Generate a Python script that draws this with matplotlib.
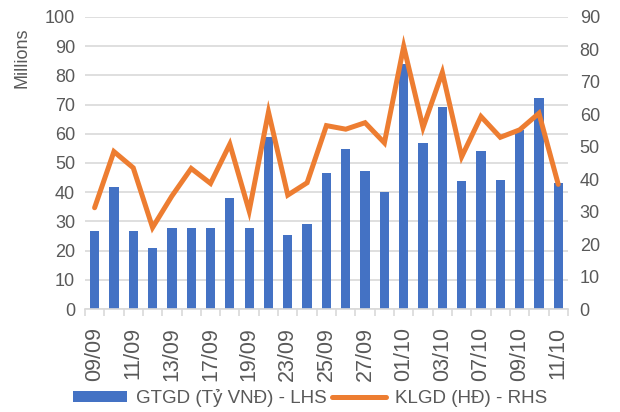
import matplotlib
matplotlib.use("Agg")
import matplotlib.pyplot as plt
import numpy as np

plt.rcParams['font.family'] = ['Liberation Sans', 'DejaVu Sans']

# trading days
dates = ['09/09', '10/09', '11/09', '12/09', '13/09', '16/09', '17/09', '18/09',
         '19/09', '20/09', '23/09', '24/09', '25/09', '26/09', '27/09', '30/09',
         '01/10', '02/10', '03/10', '04/10', '07/10', '08/10', '09/10', '10/10', '11/10']
# GTGD, left axis (millions)
gtgd = [26.6, 41.8, 26.7, 21.0, 27.8, 27.9, 27.9, 38.1, 27.8, 58.8, 25.2, 29.2,
        46.5, 54.9, 47.4, 39.9, 84.0, 56.9, 69.3, 43.8, 54.1, 44.0, 61.3, 72.4, 43.1]
# KLGD, right axis
klgd = [31.2, 48.5, 43.5, 25.1, 34.8, 43.3, 38.7, 50.8, 30.2, 60.7, 35.1, 38.9,
        56.5, 55.4, 57.4, 51.2, 80.9, 55.9, 72.9, 46.9, 59.3, 52.9, 55.2, 60.3, 38.4]

blue = '#4472C4'
orange = '#ED7D31'
txt = '#595959'
grid = '#D9D9D9'

fig = plt.figure(figsize=(6.2, 4.12), dpi=100)
ax = fig.add_axes([0.137, 0.25, 0.779, 0.709])
ax2 = ax.twinx()

x = np.arange(len(dates))
b = ax.bar(x, gtgd, width=0.48, color=blue, label='GTGD (Tỷ VNĐ) - LHS', zorder=2)
l, = ax2.plot(x, klgd, color=orange, lw=3.6, solid_joinstyle='miter',
              solid_capstyle='round', label='KLGD (HĐ) - RHS', zorder=3)

ax.set_xlim(-0.5, len(dates) - 0.5)
ax.set_ylim(0, 100)
ax2.set_ylim(0, 90)
ax.set_yticks(np.arange(0, 101, 10))
ax2.set_yticks(np.arange(0, 91, 10))
ax.yaxis.grid(True, color=grid, lw=1.2, zorder=0)
ax.set_axisbelow(True)

ax.set_xticks(x[::2])
ax.set_xticklabels(dates[::2], rotation=90)
ax.set_xticks(np.arange(-0.5, len(dates), 1), minor=True)
ax.tick_params(axis='x', which='major', length=0, pad=13, labelsize=15.5, labelcolor=txt)
ax.tick_params(axis='x', which='minor', length=5, color=grid, width=1.2)
ax.tick_params(axis='y', length=0, pad=7, labelsize=13, labelcolor=txt)
ax2.tick_params(axis='y', length=0, pad=8.5, labelsize=13, labelcolor=txt)

for a in (ax, ax2):
    for s in a.spines.values():
        s.set_visible(False)
ax.spines['bottom'].set_visible(True)
ax.spines['bottom'].set_color(grid)
ax.spines['bottom'].set_linewidth(1.2)

fig.text(0.035, 0.86, 'Millions', rotation=90, ha='center', va='center',
         fontsize=13, color=txt)

fig.legend([b, l], [b.get_label(), l.get_label()], loc='center',
           bbox_to_anchor=(0.5, 0.034), ncol=2, frameon=False, fontsize=13.5,
           labelcolor=txt, handlelength=2.9, handletextpad=0.45, columnspacing=0.3,
           handleheight=0.55, borderpad=0)

fig.savefig('out.png', dpi=100)
